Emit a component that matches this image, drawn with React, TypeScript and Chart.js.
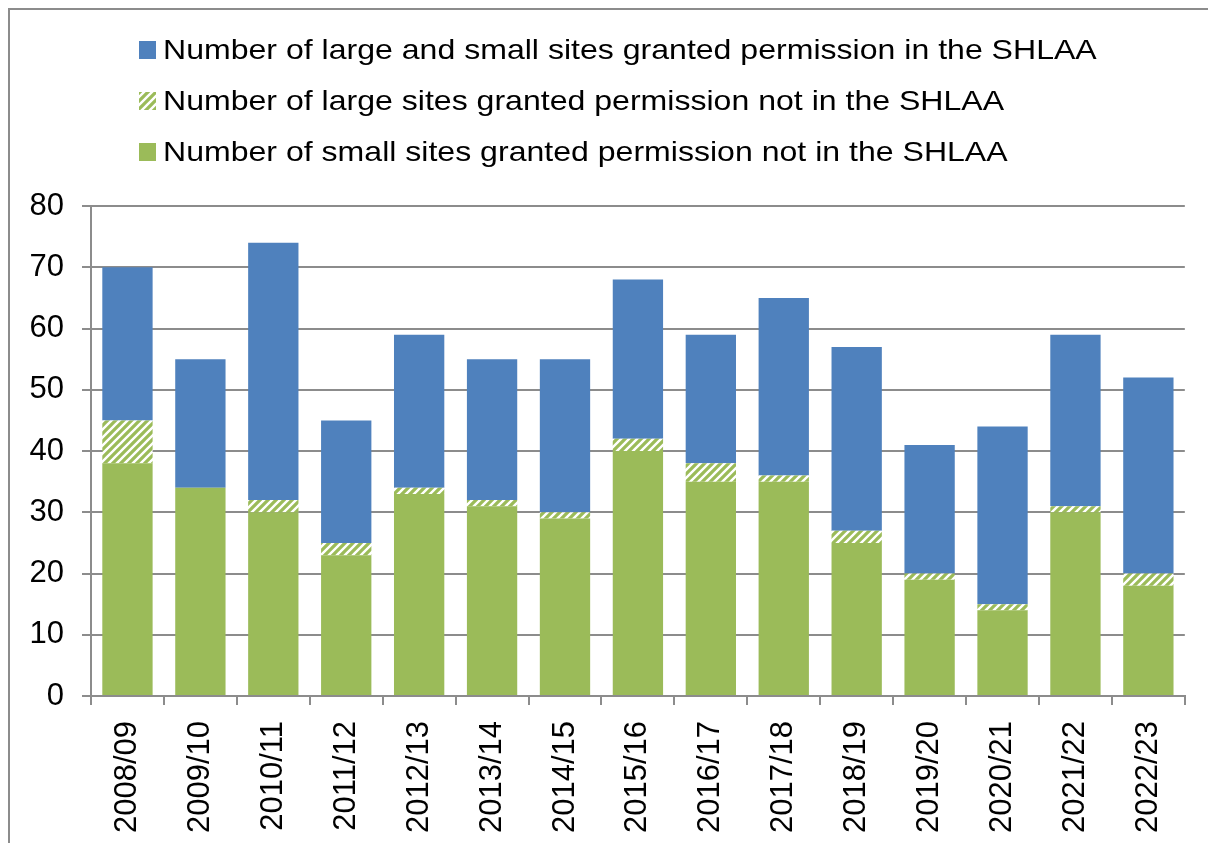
import React, { useEffect, useRef } from "react";
import { Chart, registerables } from "chart.js";

Chart.register(...registerables);

const categories = [
  "2008/09", "2009/10", "2010/11", "2011/12", "2012/13", "2013/14", "2014/15", "2015/16",
  "2016/17", "2017/18", "2018/19", "2019/20", "2020/21", "2021/22", "2022/23",
];
const smallNotInShlaa = [38, 34, 30, 23, 33, 31, 29, 40, 35, 35, 25, 19, 14, 30, 18];
const largeNotInShlaa = [7, 0, 2, 2, 1, 1, 1, 2, 3, 1, 2, 1, 1, 1, 2];
const inShlaa = [25, 21, 42, 20, 25, 23, 25, 26, 21, 29, 30, 21, 29, 28, 32];
const yTicks = [0, 10, 20, 30, 40, 50, 60, 70, 80];

const labelBlue = "Number of large and small sites granted permission in the SHLAA";
const labelHatch = "Number of large sites granted permission not in the SHLAA";
const labelGreen = "Number of small sites granted permission not in the SHLAA";

const BLUE = "#4F81BD";
const GREEN = "#9BBB59";
const GRID = "#8c8c8c";
const FONT = "'Liberation Sans', Arial, sans-serif";

function makeHatch(): CanvasPattern | string {
  const c = document.createElement("canvas");
  c.width = 8;
  c.height = 8;
  const g = c.getContext("2d");
  if (!g) return GREEN;
  g.fillStyle = GREEN;
  g.fillRect(0, 0, 8, 8);
  g.strokeStyle = "#ffffff";
  g.lineWidth = 2.4;
  g.beginPath();
  g.moveTo(-2, 10);
  g.lineTo(10, -2);
  g.moveTo(-6, 6);
  g.lineTo(6, -6);
  g.moveTo(2, 14);
  g.lineTo(14, 2);
  g.stroke();
  return g.createPattern(c, "repeat") || GREEN;
}

const legendPlugin = {
  id: "customLegend",
  afterDraw(chart: any) {
    const ctx = chart.ctx as CanvasRenderingContext2D;
    const order = [2, 1, 0];
    const centers = [40, 91, 142];
    ctx.save();
    order.forEach((di, i) => {
      const ds = chart.data.datasets[di];
      const cy = centers[i];
      ctx.fillStyle = ds.backgroundColor;
      ctx.fillRect(129, cy - 9, 17, 18);
      ctx.save();
      ctx.translate(153, cy);
      ctx.scale(1.145, 1);
      ctx.fillStyle = "#000";
      ctx.font = `28px ${FONT}`;
      ctx.textBaseline = "middle";
      ctx.textAlign = "left";
      ctx.fillText(ds.label, 0, 1);
      ctx.restore();
    });
    ctx.restore();
  },
};

export default function App() {
  const ref = useRef<HTMLCanvasElement | null>(null);

  useEffect(() => {
    if (!ref.current) return;
    const hatch = makeHatch();
    const chart = new Chart(ref.current, {
      type: "bar",
      data: {
        labels: categories,
        datasets: [
          { label: labelGreen, data: smallNotInShlaa, backgroundColor: GREEN, categoryPercentage: 0.69, barPercentage: 1 },
          { label: labelHatch, data: largeNotInShlaa, backgroundColor: hatch as any, categoryPercentage: 0.69, barPercentage: 1 },
          { label: labelBlue, data: inShlaa, backgroundColor: BLUE, categoryPercentage: 0.69, barPercentage: 1 },
        ],
      },
      options: {
        responsive: false,
        animation: false,
        layout: { padding: { top: 196, right: 13, left: 0, bottom: 0 } },
        plugins: {
          legend: { display: false },
          tooltip: { enabled: false },
        },
        scales: {
          x: {
            stacked: true,
            afterFit: (scale: any) => {
              scale.height = 139;
            },
            grid: {
              display: true,
              drawOnChartArea: false,
              drawTicks: true,
              tickLength: 9,
              color: GRID,
              lineWidth: 2,
            },
            border: { display: true, color: GRID, width: 2 },
            ticks: {
              color: "#000",
              font: { family: FONT, size: 31 },
              minRotation: 90,
              maxRotation: 90,
              padding: 16,
              autoSkip: false,
            },
          },
          y: {
            stacked: true,
            min: 0,
            max: 80,
            afterFit: (scale: any) => {
              scale.width = 81;
            },
            afterBuildTicks: (scale: any) => {
              scale.ticks = yTicks.map((v) => ({ value: v }));
            },
            grid: {
              color: GRID,
              lineWidth: 2,
              tickLength: 9,
            },
            border: { display: true, color: GRID, width: 2 },
            ticks: {
              color: "#000",
              font: { family: FONT, size: 31 },
              padding: 18,
            },
          },
        },
      },
      plugins: [legendPlugin],
    });
    return () => chart.destroy();
  }, []);

  return (
    <div
      style={{
        position: "fixed",
        top: 8,
        left: 8,
        borderTop: `2px solid ${GRID}`,
        borderLeft: `2px solid ${GRID}`,
        width: 1200,
        height: 835,
        boxSizing: "border-box",
        overflow: "hidden",
        background: "#fff",
      }}
    >
      <canvas ref={ref} width={1192} height={825} style={{ display: "block" }} />
    </div>
  );
}
